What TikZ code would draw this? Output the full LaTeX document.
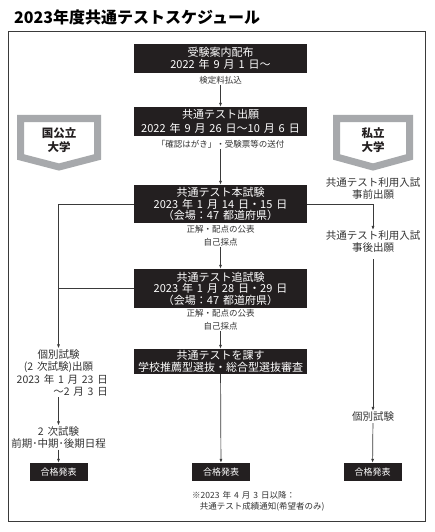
\documentclass[tikz,border=0pt]{standalone}
\usepackage{fontspec}
\setmainfont[WordSpace=1.6]{Noto Sans CJK JP}
\usetikzlibrary{arrows.meta,positioning,calc}
\definecolor{skBlack}{HTML}{231F20}
\definecolor{skLine}{HTML}{3A3A3A}
\definecolor{skShield}{HTML}{A7A9AC}
\definecolor{skText}{HTML}{333333}

\begin{document}
\begin{tikzpicture}[
      x=1pt, y=-1pt,
      >={Latex[length=4pt,width=3pt]},
      evbox/.style={fill=skBlack, text=white, minimum width=173pt, inner sep=0pt,
                  align=center, font=\fontsize{11}{11.5}\selectfont},
      passbox/.style={fill=skBlack, text=white, minimum width=58pt, minimum height=18pt,
                  inner sep=0pt, font=\fontsize{9}{10}\selectfont},
      memo/.style={align=center, text=skText, inner sep=1pt,
                  font=\fontsize{8.5}{13}\selectfont},
      colnote/.style={align=center, text=skText, inner sep=1pt,
                  font=\fontsize{10.5}{12}\selectfont},
      flow/.style={->, draw=skLine, line width=0.7pt},
      shieldline/.style={draw=skShield, line width=7pt, line join=miter, fill=white},
      shieldtxt/.style={align=center, text=skBlack,
                  font=\bfseries\fontsize{11.5}{14}\selectfont},
    ]

    \fill[white] (0,0) rectangle (434,532);
    \useasboundingbox (0,0) rectangle (434,532);

    % ---------- titel + rahmen ----------
    \node[anchor=west, inner sep=0pt, font=\bfseries\fontsize{16}{18}\selectfont]
      (title) at (14,17) {2023年度共通テストスケジュール};
    \draw[skLine, line width=1pt] (8,32) rectangle (425,521);

    % ---------- mitte: ablauf ----------
    \node[evbox, minimum height=29pt] (guide) at (220.5,58.5)
      {受験案内配布\\2022 年 9 月 1 日〜};
    \node[memo] (fee) at (220.5,80) {検定料払込};
    \node[evbox, minimum height=29pt] (apply) at (220.5,121.5)
      {共通テスト出願\\[3pt]2022 年 9 月 26 日〜10 月 6 日};
    \node[memo] (card) at (220.5,144) {「確認はがき」・受験票等の送付};
    \node[evbox, minimum height=38pt] (main) at (220.5,204)
      {共通テスト本試験\\2023 年 1 月 14 日・15 日\\（会場：47 都道府県）};
    \node[memo] (mainscore) at (220.5,235.5) {正解・配点の公表\\自己採点};
    \node[evbox, minimum height=39pt] (retry) at (220.5,288.5)
      {共通テスト追試験\\2023 年 1 月 28 日・29 日\\（会場：47 都道府県）};
    \node[memo] (retryscore) at (220.5,319.5) {正解・配点の公表\\自己採点};
    \node[evbox, minimum height=25pt] (rec) at (220.5,361.5)
      {共通テストを課す\\学校推薦型選抜・総合型選抜審査};
    \node[passbox] (passC) at (221,472) {合格発表};
    \node[memo, align=left, anchor=west, font=\fontsize{8.5}{11}\selectfont] (notice) at (191,501)
      {※2023 年 4 月 3 日以降：\\\hspace{0.9em}共通テスト成績通知(希望者のみ)};

    \draw[flow] (fee) -- (apply);
    \draw[flow] (card) -- (main);
    \draw[flow] (mainscore) -- (retry);
    \draw[flow] (retryscore) -- (rec);
    \draw[flow] (rec) -- (passC);

    % ---------- links: kokukoritsu ----------
    \draw[shieldline] (20.5,118.5) -- (97.5,118.5) -- (97.5,157) -- (59,167) -- (20.5,157) -- cycle;
    \node[shieldtxt] (national) at (59,140) {国公立\\大学};

    \node[colnote] (kobetsuL) at (58.5,361) {個別試験\\(2 次試験)出願};
    \node[colnote, align=right, anchor=east] (kdate) at (109,385)
      {2023 年 1 月 23 日\\〜2 月 3 日};
    \node[colnote] (niji) at (58.5,437.5) {2 次試験\\前期･中期･後期日程};
    \node[passbox] (passL) at (58.5,472) {合格発表};

    \draw[flow] (main.west) -| (kobetsuL.north);
    \draw[skLine, line width=0.7pt] (retry.west) -- (retry.west -| kobetsuL.north);
    \draw[flow] (kdate.south -| niji.north) -- (niji.north);
    \draw[flow] (niji) -- (passL);

    % ---------- rechts: shiritsu ----------
    \draw[shieldline] (336.5,118.5) -- (409.5,118.5) -- (409.5,157) -- (373,167) -- (336.5,157) -- cycle;
    \node[shieldtxt] (private) at (373,140) {私立\\大学};

    \node[colnote] (jizen) at (373,188.5) {共通テスト利用入試\\事前出願};
    \node[colnote] (jigo) at (373,242) {共通テスト利用入試\\事後出願};
    \node[colnote] (kobetsuR) at (373,417) {個別試験};
    \node[passbox] (passR) at (372.5,472) {合格発表};

    \draw[flow] (main.east) -| (jigo.north);
    \draw[flow] (jigo.south) ++(0,5) -- (kobetsuR.north);
    \draw[flow] (kobetsuR) -- (passR);

  \end{tikzpicture}
\end{document}
